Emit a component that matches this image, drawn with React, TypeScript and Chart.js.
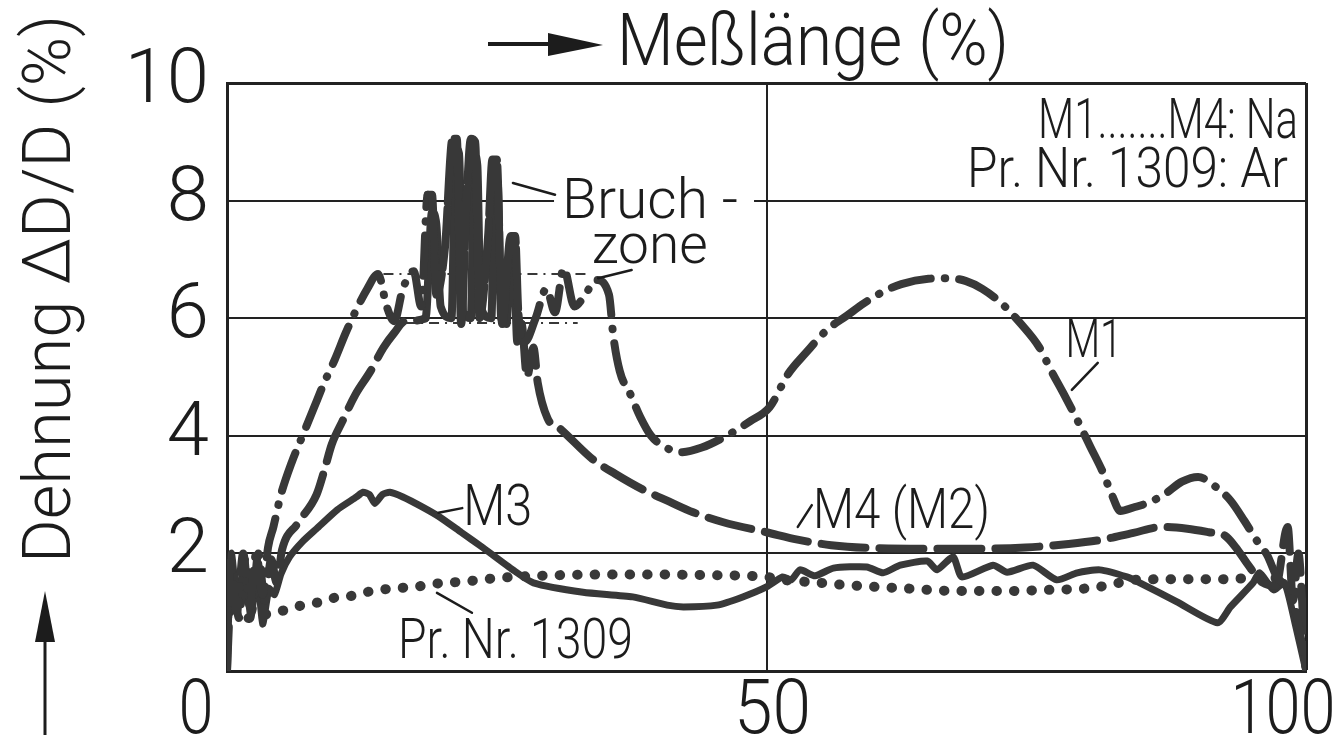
import React, { useEffect, useRef } from 'react';
import { Chart, registerables } from 'chart.js';

Chart.register(...registerables);

// ---------- data (x: Meßlänge %, y: Dehnung %) ----------
const X_TICKS = [0, 50, 100];
const Y_TICKS = [2, 4, 6, 8, 10];

const M1: number[][] = [
  [0, 0], [0.3, 1.9], [0.9, 1.0], [1.5, 2.0], [2.1, 1.1], [2.7, 2.0], [3.3, 1.3], [3.8, 2.1], [4.3, 2.45],
  [5, 3.0], [6, 3.55], [7, 4.0], [8, 4.45], [9, 4.9], [10, 5.3], [11, 5.75], [12, 6.15], [13, 6.5], [14, 6.75],
  [14.8, 6.2], [15.5, 5.95], [16.3, 6.5], [17.3, 6.8], [18, 6.2], [18.6, 8.1], [19.0, 8.1], [19.4, 6.4],
  [20.2, 7.2], [20.9, 9.05], [21.3, 9.05], [21.7, 5.9], [22.2, 8.0], [22.6, 9.05], [23.0, 9.0], [23.4, 6.0],
  [24.2, 7.4], [24.6, 8.7], [25.0, 8.7], [25.5, 5.9], [26.3, 7.4], [26.7, 7.4], [27.0, 6.1], [27.6, 5.6],
  [28.6, 6.0], [29.6, 6.5], [30.4, 6.1], [31.2, 6.85], [32.2, 6.2], [33.2, 6.4], [34.2, 6.65], [35.4, 6.4],
  [35.8, 5.7], [36.4, 5.1], [37.4, 4.7], [38.3, 4.32], [39.3, 4.0], [40.5, 3.82], [42, 3.72], [44, 3.8],
  [46, 3.97], [48.5, 4.25], [50.3, 4.49], [52, 5.05], [53.6, 5.4], [55.6, 5.8], [57.5, 6.05], [59, 6.25],
  [60.8, 6.45], [62.5, 6.58], [65, 6.67], [67, 6.68], [68.5, 6.63], [70, 6.5], [71.8, 6.25], [73.5, 5.92],
  [75.3, 5.5], [76.4, 5.1], [77.5, 4.73], [78.8, 4.27], [80, 3.82], [81.2, 3.37], [82, 3.0], [82.8, 2.72],
  [84, 2.78], [85.5, 2.87], [87, 3.02], [88.5, 3.22], [90, 3.3], [91.5, 3.15], [93, 2.9], [94.3, 2.55],
  [95.5, 2.2], [96.4, 1.97], [97.3, 1.6], [98.3, 1.4], [99.2, 0.9], [100, 0],
];

const M4: number[][] = [
  [0, 0], [0.5, 1.8], [1.1, 0.9], [1.7, 1.9], [2.3, 1.0], [2.9, 2.0], [3.5, 1.2], [4.1, 1.9], [4.6, 1.5],
  [5.1, 2.06], [6.5, 2.5], [8.3, 3.0], [9.0, 3.4], [9.7, 3.85], [10.7, 4.25], [11.9, 4.7], [13.3, 5.1],
  [14.5, 5.5], [15.5, 5.75], [16.5, 5.95], [18.4, 6.0], [19.0, 7.8], [19.4, 7.6], [19.8, 6.2], [20.8, 6.0],
  [21.2, 8.9], [21.5, 8.8], [21.9, 6.1], [22.6, 6.0], [22.9, 8.8], [23.2, 8.6], [23.5, 6.2], [24.5, 6.0],
  [24.8, 8.4], [25.1, 8.3], [25.4, 6.0], [25.9, 5.9], [26.3, 7.3], [26.6, 7.1], [26.9, 5.6], [27.3, 5.9],
  [27.8, 5.0], [28.4, 5.5], [28.8, 4.9], [29.7, 4.3], [31, 4.1], [33.9, 3.6], [36, 3.35], [38.6, 3.08],
  [41, 2.88], [43.2, 2.7], [46, 2.53], [50, 2.36], [53, 2.23], [56, 2.14], [60, 2.09], [65, 2.08], [70, 2.08],
  [74, 2.1], [78, 2.16], [81, 2.23], [84, 2.35], [86.7, 2.45], [89, 2.42], [91, 2.36], [92.5, 2.3],
  [93.5, 2.1], [94.5, 1.84], [96, 1.5], [97.2, 1.45], [98.3, 2.45], [98.8, 1.2], [99.3, 2.0], [99.7, 1.0], [100, 0],
];

const M3: number[][] = [
  [0, 0], [0.4, 2.0], [1, 1.1], [1.6, 1.9], [2.2, 0.9], [2.8, 1.7], [3.3, 0.8], [3.9, 1.4], [4.4, 1.3],
  [5.0, 1.65], [5.8, 1.94], [7, 2.2], [8.3, 2.42], [10.2, 2.74], [12, 2.96], [12.6, 3.04], [13.2, 3.0],
  [13.7, 2.85], [14.4, 3.0], [15.1, 3.04], [16.3, 2.96], [18, 2.8], [19.7, 2.62], [21.7, 2.36], [23.7, 2.1],
  [26.5, 1.72], [28.4, 1.5], [33, 1.34], [37.6, 1.26], [40.8, 1.12], [42.3, 1.09], [45.4, 1.12], [47.8, 1.26],
  [50, 1.43], [51.5, 1.6], [52.3, 1.55], [53.1, 1.72], [54.5, 1.62], [56.2, 1.75], [59.3, 1.77], [60.8, 1.67],
  [62.4, 1.8], [64.9, 1.87], [65.8, 1.72], [67.3, 1.94], [68.1, 1.6], [71, 1.8], [72.3, 1.68], [74.7, 1.8],
  [76.9, 1.55], [78.8, 1.67], [80.9, 1.72], [83.4, 1.6], [84.6, 1.5], [88, 1.18], [91.8, 0.82], [93, 1.09],
  [95.1, 1.5], [95.7, 1.67], [97, 1.38], [98, 1.5], [99, 0.8], [100, 0],
];

const PR1309: number[][] = [
  [2, 0.9], [4, 0.98], [5.5, 1.04], [7, 1.12], [8.3, 1.16], [9.8, 1.24], [11.1, 1.26], [12.6, 1.33],
  [14.2, 1.38], [15.7, 1.41], [17.4, 1.43], [19.1, 1.48], [22.5, 1.53], [25, 1.58], [29, 1.62], [35, 1.64],
  [40, 1.64], [45, 1.63], [50, 1.6], [51.5, 1.55], [54.3, 1.51], [57.6, 1.46], [62.4, 1.41], [68, 1.36],
  [72, 1.36], [76, 1.38], [80, 1.41], [82, 1.47], [84, 1.55], [88, 1.56], [92, 1.56], [95, 1.58], [97.5, 1.58],
];

// Bruchzone band limits (thin dash-dot lines) and extent of the fracture zone
const BAND_HIGH: number[][] = [[14.5, 6.75], [33.5, 6.75]];
const BAND_LOW: number[][] = [[16.5, 5.92], [32.5, 5.92]];
const BRUCHZONE: number[] = [18.3, 27.7];

// ---------- annotation layout (data-coordinate anchors, px sizes) ----------
const LABELS = [
  { text: 'Bruch -', x: 31.05, y: 7.7, size: 55, width: 176, align: 'left', bg: true },
  { text: 'zone', x: 33.8, y: 6.94, size: 55, width: 116, align: 'left', bg: false },
  { text: 'M1', x: 77.7, y: 5.34, size: 54, width: 57, align: 'left', bg: false },
  { text: 'M3', x: 21.9, y: 2.48, size: 57, width: 69, align: 'left', bg: false },
  { text: 'M4 (M2)', x: 54.3, y: 2.43, size: 56, width: 177, align: 'left', bg: false },
  { text: 'Pr. Nr. 1309', x: 15.85, y: 0.22, size: 56, width: 235, align: 'left', bg: false },
  { text: 'M1.......M4: Na', x: 99.26, y: 9.06, size: 55, width: 260, align: 'right', bg: false },
  { text: 'Pr. Nr. 1309: Ar', x: 98.33, y: 8.23, size: 55, width: 321, align: 'right', bg: false },
];
const LEADERS: number[][] = [
  [26.5, 8.3, 30.4, 8.1],
  [34.4, 6.68, 37.5, 6.82],
  [78.3, 4.78, 80.7, 5.24],
  [19.6, 2.69, 21.8, 2.77],
  [52.9, 2.45, 54.2, 2.82],
  [19.46, 1.33, 22.7, 0.99],
];
const X_TICK_NUDGE: Record<number, number> = { 0: -31, 50: 6, 100: -23 };
const X_TICK_WIDTH: Record<number, number> = { 0: 35, 50: 77, 100: 105 };

const INK = '#1c1c1c';
const LINE = '#383838';
const GRID = '#222222';
const FONT_WEIGHT = 300;

function pickFont(): string {
  const cands = ['Roboto', 'DejaVu Sans Condensed', 'Liberation Sans Narrow', 'Liberation Sans', 'DejaVu Sans'];
  const c = document.createElement('canvas').getContext('2d') as CanvasRenderingContext2D;
  const s = 'Meßlänge 1309 WMgiq';
  for (const f of cands) {
    for (const fb of ['monospace', 'serif']) {
      c.font = `40px ${fb}`;
      const w0 = c.measureText(s).width;
      c.font = `40px "${f}", ${fb}`;
      const w1 = c.measureText(s).width;
      if (Math.abs(w0 - w1) > 0.5) return f;
    }
  }
  return 'sans-serif';
}

function fitText(ctx: CanvasRenderingContext2D, text: string, x: number, y: number, size: number, width: number, align: string, family: string) {
  ctx.save();
  ctx.font = `${FONT_WEIGHT} ${size}px "${family}"`;
  ctx.textBaseline = 'alphabetic';
  ctx.textAlign = 'left';
  const w = ctx.measureText(text).width;
  const left = align === 'right' ? x - width : align === 'center' ? x - width / 2 : x;
  ctx.translate(left, y);
  ctx.scale(width / w, 1);
  ctx.fillStyle = INK;
  ctx.fillText(text, 0, 0);
  ctx.restore();
}

const toXY = (arr: number[][]) => arr.map(([x, y]) => ({ x, y }));
const inZone = (c: any) => {
  const a = c.p0.parsed.x, b = c.p1.parsed.x;
  return a >= BRUCHZONE[0] && b <= BRUCHZONE[1];
};

export default function App() {
  const ref = useRef<HTMLCanvasElement>(null);

  useEffect(() => {
    const canvas = ref.current;
    if (!canvas) return;
    const family = pickFont();

    const decor = {
      id: 'decor',
      beforeDatasetsDraw(chart: any) {
        const { ctx, scales } = chart;
        const xs = scales.x, ys = scales.y;
        ctx.save();
        ctx.fillStyle = '#ffffff';
        for (const a of LABELS) {
          if (!a.bg) continue;
          const px = xs.getPixelForValue(a.x);
          const py = ys.getPixelForValue(a.y);
          ctx.fillRect(px - 8, py - a.size * 0.82, a.width + 24, a.size * 0.98);
        }
        ctx.restore();
      },
      afterDatasetsDraw(chart: any) {
        const { ctx, scales, chartArea } = chart;
        const xs = scales.x, ys = scales.y;
        ctx.save();
        ctx.strokeStyle = INK;
        ctx.lineWidth = 2.5;
        ctx.lineCap = 'round';
        for (const [x1, y1, x2, y2] of LEADERS) {
          ctx.beginPath();
          ctx.moveTo(xs.getPixelForValue(x1), ys.getPixelForValue(y1));
          ctx.lineTo(xs.getPixelForValue(x2), ys.getPixelForValue(y2));
          ctx.stroke();
        }
        ctx.restore();
        for (const a of LABELS) {
          fitText(ctx, a.text, xs.getPixelForValue(a.x), ys.getPixelForValue(a.y), a.size, a.width, a.align, family);
        }
        for (const t of xs.ticks) {
          const v = t.value;
          const cx = xs.getPixelForValue(v) + (X_TICK_NUDGE[v] || 0);
          fitText(ctx, String(v), cx, chartArea.bottom + 62, 76, X_TICK_WIDTH[v] || 40, 'center', family);
        }
      },
      afterDraw(chart: any) {
        const { ctx, chartArea } = chart;
        ctx.save();
        ctx.fillStyle = INK;
        ctx.strokeStyle = INK;
        const ay = chartArea.top - 39;
        ctx.lineWidth = 4;
        ctx.beginPath();
        ctx.moveTo(488, ay);
        ctx.lineTo(560, ay);
        ctx.stroke();
        ctx.beginPath();
        ctx.moveTo(548, ay - 11);
        ctx.lineTo(603, ay + 1);
        ctx.lineTo(548, ay + 12);
        ctx.closePath();
        ctx.fill();
        fitText(ctx, 'Meßlänge (%)', 617, 65, 72, 392, 'left', family);
        ctx.lineWidth = 3;
        ctx.beginPath();
        ctx.moveTo(45, 735);
        ctx.lineTo(45, 630);
        ctx.stroke();
        ctx.beginPath();
        ctx.moveTo(35, 642);
        ctx.lineTo(45, 591);
        ctx.lineTo(55, 642);
        ctx.closePath();
        ctx.fill();
        ctx.save();
        ctx.translate(70, 563);
        ctx.rotate(-Math.PI / 2);
        fitText(ctx, 'Dehnung ΔD/D (%)', 0, 0, 67, 548, 'left', family);
        ctx.restore();
        ctx.restore();
      },
    };

    const chart = new Chart(canvas, {
      type: 'line',
      data: {
        datasets: [
          {
            label: 'M1', data: toXY(M1), borderColor: LINE, borderWidth: 8,
            borderDash: [40, 14, 0.5, 14], borderCapStyle: 'round', borderJoinStyle: 'round',
            cubicInterpolationMode: 'monotone', pointRadius: 0,
            segment: { borderDash: (c: any) => (inZone(c) ? [60, 6] : undefined) },
          },
          {
            label: 'M4 (M2)', data: toXY(M4), borderColor: LINE, borderWidth: 8,
            borderDash: [44, 14], borderCapStyle: 'round', borderJoinStyle: 'round',
            cubicInterpolationMode: 'monotone', pointRadius: 0,
            segment: { borderDash: (c: any) => (inZone(c) ? [] : undefined) },
          },
          {
            label: 'M3', data: toXY(M3), borderColor: LINE, borderWidth: 7,
            borderCapStyle: 'round', borderJoinStyle: 'round', tension: 0.2, pointRadius: 0,
          },
          {
            label: 'Pr. Nr. 1309', data: toXY(PR1309), borderColor: LINE, borderWidth: 10,
            borderDash: [0.5, 17], borderCapStyle: 'round', cubicInterpolationMode: 'monotone', pointRadius: 0,
          },
          {
            label: 'Bruchzone oben', data: toXY(BAND_HIGH), borderColor: LINE, borderWidth: 2,
            borderDash: [10, 6, 2, 6], pointRadius: 0,
          },
          {
            label: 'Bruchzone unten', data: toXY(BAND_LOW), borderColor: LINE, borderWidth: 2,
            borderDash: [10, 6, 2, 6], pointRadius: 0,
          },
        ],
      } as any,
      options: {
        animation: false,
        responsive: false,
        events: [],
        layout: { padding: { left: 0, top: 83, right: 37, bottom: 0 } },
        plugins: { legend: { display: false }, tooltip: { enabled: false }, title: { display: false } },
        scales: {
          x: {
            type: 'linear', min: 0, max: 100,
            afterBuildTicks: (s: any) => { s.ticks = X_TICKS.map((v) => ({ value: v })); },
            ticks: { display: false },
            grid: {
              color: GRID, drawTicks: false,
              lineWidth: (c: any) => (c.tick && c.tick.value === 100 ? 3 : 2),
            },
            border: { display: true, color: GRID, width: 3 },
            afterFit: (s: any) => { s.height = 69; s.paddingLeft = 0; s.paddingRight = 0; },
          },
          y: {
            type: 'linear', min: 0, max: 10,
            afterBuildTicks: (s: any) => { s.ticks = [0, ...Y_TICKS].map((v) => ({ value: v })); },
            ticks: {
              color: INK, padding: 18, font: { family, size: 76, weight: FONT_WEIGHT },
              callback: (v: any) => (v === 0 ? '' : String(v)),
            },
            grid: {
              color: GRID, drawTicks: false,
              lineWidth: (c: any) => (c.tick && c.tick.value === 10 ? 3 : 2),
            },
            border: { display: true, color: GRID, width: 3 },
            afterFit: (s: any) => { s.width = 227; s.paddingTop = 0; s.paddingBottom = 0; },
          },
        },
      } as any,
      plugins: [decor],
    });
    return () => chart.destroy();
  }, []);

  return (
    <div style={{ position: 'fixed', left: 0, top: 0, width: 1343, height: 740, background: '#fff' }}>
      <canvas ref={ref} width={1343} height={740} style={{ display: 'block' }} />
    </div>
  );
}
